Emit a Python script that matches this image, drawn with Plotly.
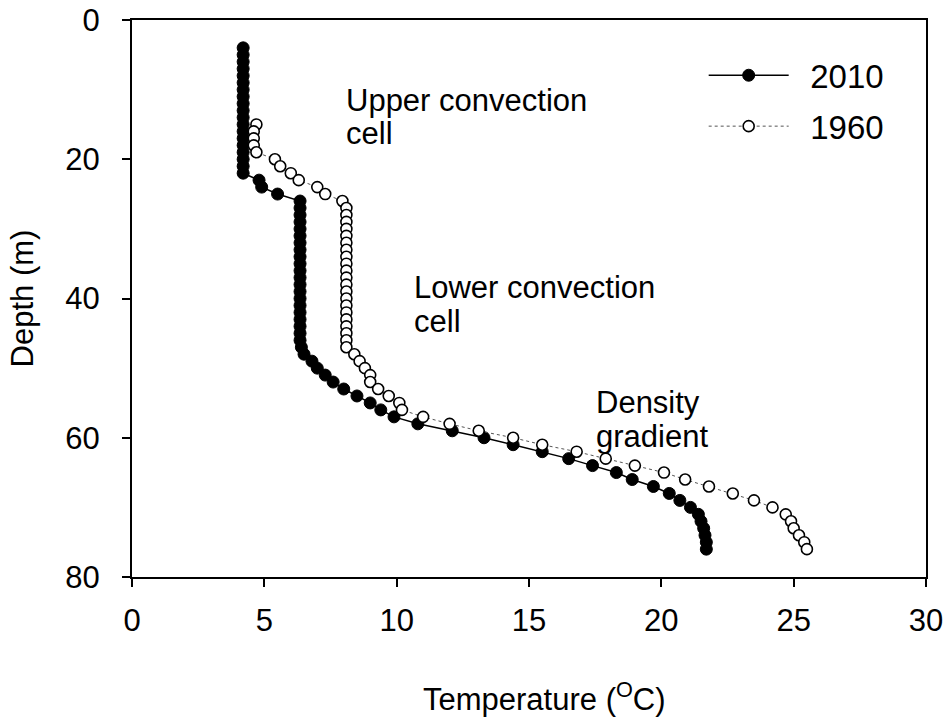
import plotly.graph_objects as go

# 2010 profile: depth (m) and temperature (deg C)
depth_2010 = [4, 5, 6, 7, 8, 9, 10, 11, 12, 13, 14, 15, 16, 17, 18, 19, 20, 21, 22,
              23, 24, 25,
              26, 27, 28, 29, 30, 31, 32, 33, 34, 35, 36, 37, 38, 39, 40, 41, 42, 43, 44, 45, 46, 47,
              48, 49, 50, 51, 52, 53, 54, 55, 56, 57, 58, 59, 60, 61, 62, 63, 64, 65, 66, 67, 68,
              69, 70, 71, 72, 73, 74, 75, 76]
temp_2010 = [4.2, 4.2, 4.2, 4.2, 4.2, 4.2, 4.2, 4.2, 4.2, 4.2, 4.2, 4.2, 4.2, 4.2, 4.2, 4.2, 4.2, 4.2, 4.2,
             4.8, 4.9, 5.5,
             6.35, 6.35, 6.35, 6.35, 6.35, 6.35, 6.35, 6.35, 6.35, 6.35, 6.35, 6.35, 6.35, 6.35, 6.35,
             6.35, 6.35, 6.35, 6.35, 6.35, 6.35, 6.4,
             6.5, 6.8, 7.0, 7.3, 7.6, 8.0, 8.5, 9.0, 9.4, 9.9, 10.8, 12.1, 13.3, 14.4, 15.5, 16.5,
             17.4, 18.3, 18.9, 19.7, 20.3,
             20.7, 21.1, 21.4, 21.5, 21.6, 21.65, 21.7, 21.7]

# 1960 profile
depth_1960 = [15, 16, 17, 18, 19, 20, 21, 22, 23, 24, 25, 26,
              27, 28, 29, 30, 31, 32, 33, 34, 35, 36, 37, 38, 39, 40, 41, 42, 43, 44, 45, 46, 47,
              48, 49, 50, 51, 52, 53, 54, 55, 56, 57, 58, 59, 60, 61, 62, 63, 64, 65, 66, 67, 68,
              69, 70, 71, 72, 73, 74, 75, 76]
temp_1960 = [4.7, 4.6, 4.6, 4.6, 4.7, 5.4, 5.6, 6.0, 6.3, 7.0, 7.3, 7.95,
             8.1, 8.1, 8.1, 8.1, 8.1, 8.1, 8.1, 8.1, 8.1, 8.1, 8.1, 8.1, 8.1, 8.1, 8.1, 8.1, 8.1,
             8.1, 8.1, 8.1, 8.1,
             8.4, 8.6, 8.8, 9.0, 9.0, 9.3, 9.7, 10.1, 10.2, 11.0, 12.0, 13.1, 14.4, 15.5, 16.8,
             17.9, 19.0, 20.1, 20.9, 21.8, 22.7,
             23.5, 24.2, 24.7, 24.9, 25.0, 25.2, 25.4, 25.5]

# region labels, one entry per text line
label_lines = ["Upper convection", "cell", "Lower convection", "cell", "Density", "gradient"]
label_x = [8.0, 8.0, 10.57, 10.57, 17.45, 17.45]
label_y = [11.6, 16.3, 38.4, 43.3, 54.9, 59.8]

font_name = "Liberation Sans, Arial, sans-serif"

fig = go.Figure()
fig.add_trace(go.Scatter(
    x=temp_2010, y=depth_2010, name="\u20022010", legendgroup="a", mode="lines+markers",
    line=dict(color="black", width=1.5),
    marker=dict(symbol="circle", size=12, color="black", line=dict(color="black", width=1)),
))
fig.add_trace(go.Scatter(
    x=temp_1960, y=depth_1960, name="\u20021960", legendgroup="b", mode="lines+markers",
    line=dict(color="#555555", width=1, dash="dot"),
    marker=dict(symbol="circle", size=11, color="white", line=dict(color="black", width=1.6)),
))

for txt, lx, ly in zip(label_lines, label_x, label_y):
    fig.add_annotation(x=lx, y=ly, text=txt, showarrow=False, xanchor="left", yanchor="middle",
                       align="left", font=dict(size=31, color="black", family=font_name))

# x-axis title sits a little right of centre in the original
fig.add_annotation(x=0.52, y=-0.2154, xref="paper", yref="paper", text="Temperature (<sup>O</sup>C)",
                   showarrow=False, xanchor="center", yanchor="middle",
                   font=dict(size=31, color="black", family=font_name))

axis_style = dict(
    showline=True, linecolor="black", linewidth=2, mirror=True,
    ticks="outside", ticklen=8, tickwidth=2, tickcolor="black",
    showgrid=False, zeroline=False, automargin=False, ticklabeloverflow="allow",
    tickfont=dict(size=31, color="black", family=font_name),
)

fig.update_xaxes(range=[0, 30], dtick=5, ticklabelstandoff=7, **axis_style)
fig.update_yaxes(range=[80, 0], dtick=20, ticklabelstandoff=16,
                 title=dict(text="Depth (m)", standoff=22,
                            font=dict(size=31, color="black", family=font_name)),
                 **axis_style)

fig.update_layout(
    width=952, height=723,
    margin=dict(l=132, r=26, t=20, b=146),
    plot_bgcolor="white", paper_bgcolor="white",
    font=dict(family=font_name, color="black"),
    legend=dict(x=0.72, y=0.951, xanchor="left", yanchor="top",
                bgcolor="rgba(0,0,0,0)", itemwidth=80, tracegroupgap=5,
                traceorder="grouped",
                font=dict(size=33, color="black", family=font_name)),
)

fig.write_html("out.html", config={"displayModeBar": False},
               post_script="document.body.style.margin = '0';")
